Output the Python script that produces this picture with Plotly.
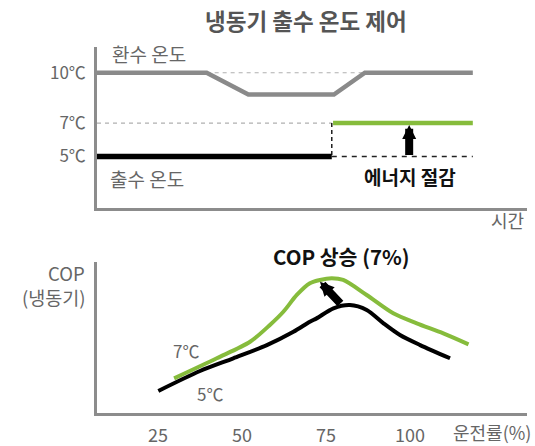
import plotly.graph_objects as go

FONT = "Noto Sans CJK KR"
GRAY_TXT = "#666666"
AXIS_GRAY = "#8c8c8c"
GREEN = "#86bc3c"

# ---- top panel data: chiller temperature control over time ----
time_pts = [0, 2.55, 3.52, 5.51, 6.23, 8.74]
return_temp = [10, 10, 8.7, 8.7, 10, 10]
switch_time = 5.46
end_time = 8.74
supply_before = 5
supply_after = 7
ref_temp = 10
temp_ticks = [5, 7, 10]
temp_tick_labels = ["5℃", "7℃", "10℃"]

# ---- bottom panel data: COP vs. load ----
load_7 = [29.8, 42.5, 52.4, 58.3, 62.3, 66.3, 70.2, 73.2, 76.7, 80.1, 87.1, 95.0, 102, 109.9, 117.4]
cop_7 = [2.31, 3.65, 4.75, 5.87, 6.75, 7.87, 8.65, 8.87, 8.98, 8.87, 7.87, 6.65, 5.98, 5.31, 4.58]
load_5 = [25.1, 37.5, 47.4, 57.4, 65.3, 70.2, 72.2, 77.2, 82.1, 87.1, 92.1, 97.0, 103, 111.9]
cop_5 = [1.47, 2.8, 3.65, 4.53, 5.42, 6.09, 6.31, 6.98, 7.2, 6.87, 5.98, 5.2, 4.53, 3.65]
load_ticks = [25, 50, 75, 100]
arrow_tip = (73.2, 8.75)
arrow_tail = (79.7, 7.2)

fig = go.Figure()

# dashed reference lines (top)
fig.add_trace(go.Scatter(x=[time_pts[1], time_pts[4]], y=[ref_temp, ref_temp], mode="lines",
                         line=dict(color="#b0b0b0", width=1.2, dash="4px,4px"), xaxis="x", yaxis="y"))
fig.add_trace(go.Scatter(x=[0, switch_time], y=[supply_after, supply_after], mode="lines",
                         line=dict(color="#b0b0b0", width=1.2, dash="4px,4px"), xaxis="x", yaxis="y"))
fig.add_trace(go.Scatter(x=[switch_time, switch_time], y=[supply_after, supply_before], mode="lines",
                         line=dict(color="#222222", width=1.5, dash="4px,3px"), xaxis="x", yaxis="y"))
fig.add_trace(go.Scatter(x=[switch_time, end_time], y=[supply_before, supply_before], mode="lines",
                         line=dict(color="#222222", width=1.5, dash="5px,5px"), xaxis="x", yaxis="y"))

# solid lines (top)
fig.add_trace(go.Scatter(x=time_pts, y=return_temp, mode="lines",
                         line=dict(color="#8a8a8a", width=4.5), xaxis="x", yaxis="y"))
fig.add_trace(go.Scatter(x=[0, switch_time], y=[supply_before, supply_before], mode="lines",
                         line=dict(color="#000000", width=5.5), xaxis="x", yaxis="y"))
fig.add_trace(go.Scatter(x=[switch_time + 0.03, end_time], y=[supply_after, supply_after], mode="lines",
                         line=dict(color=GREEN, width=4.5), xaxis="x", yaxis="y"))

# bottom curves
fig.add_trace(go.Scatter(x=load_7, y=cop_7, mode="lines", line=dict(color=GREEN, width=4, shape="spline", smoothing=0.8),
                         xaxis="x2", yaxis="y2"))
fig.add_trace(go.Scatter(x=load_5, y=cop_5, mode="lines", line=dict(color="#000000", width=4, shape="spline", smoothing=0.8),
                         xaxis="x2", yaxis="y2"))

def txt(text, x, y, size=18, color=GRAY_TXT, bold=False, xanchor="center"):
    fig.add_annotation(text=("<b>%s</b>" % text) if bold else text, x=x / 535, y=1 - y / 446,
                       xref="paper", yref="paper", xanchor=xanchor, yanchor="middle", showarrow=False,
                       font=dict(family=FONT, size=size, color=color))

txt("냉동기 출수 온도 제어", 306, 20, size=22.5, color="#555555", bold=True)
txt("환수 온도", 110, 53, size=19, xanchor="left")
txt("출수 온도", 108, 179, size=19, xanchor="left")
txt("에너지 절감", 458, 177, size=19, color="#111111", bold=True, xanchor="right")
txt("시간", 526, 220, xanchor="right")
txt("COP", 87, 273, size=18.5, xanchor="right")
txt("(냉동기)", 88, 297, size=18.5, xanchor="right")
txt("7℃", 186, 350, size=17)
txt("5℃", 210, 393, size=17)
txt("COP 상승 (7%)", 341, 256, size=20.5, color="#111111", bold=True)
txt("운전률(%)", 533, 432, xanchor="right")

# arrows
fig.add_annotation(x=7.26, y=6.88, ax=7.26, ay=supply_before, xref="x", yref="y", axref="x", ayref="y",
                   text="", showarrow=True, arrowhead=2, arrowwidth=8, arrowsize=0.35, arrowcolor="#000000")
fig.add_annotation(x=arrow_tip[0], y=arrow_tip[1], ax=arrow_tail[0], ay=arrow_tail[1],
                   xref="x2", yref="y2", axref="x2", ayref="y2",
                   text="", showarrow=True, arrowhead=2, arrowwidth=8, arrowsize=0.35, arrowcolor="#000000")

axis_common = dict(showgrid=False, zeroline=False, showline=True, linecolor=AXIS_GRAY, linewidth=2.5)

fig.update_layout(
    width=535, height=446, margin=dict(l=0, r=0, t=0, b=0),
    paper_bgcolor="white", plot_bgcolor="white", showlegend=False,
    font=dict(family=FONT, size=17, color=GRAY_TXT),
    xaxis=dict(domain=[97 / 535, 527 / 535], range=[0, 10], showticklabels=False, ticks="", anchor="y", **axis_common),
    yaxis=dict(domain=[237.7 / 446, 398.7 / 446], range=[1.91, 11.52], tickmode="array", tickvals=temp_ticks,
               ticktext=temp_tick_labels, ticks="", ticklabelstandoff=5, anchor="x",
               tickfont=dict(family=FONT, size=17, color=GRAY_TXT), **axis_common),
    xaxis2=dict(domain=[97 / 535, 527 / 535], range=[6.85, 134.8], tickmode="array", tickvals=load_ticks,
                ticks="", ticklabelstandoff=5, anchor="y2",
                tickfont=dict(family=FONT, size=18, color=GRAY_TXT), **axis_common),
    yaxis2=dict(domain=[33 / 446, 184.3 / 446], range=[0, 10.09], showticklabels=False, ticks="", anchor="x2",
                **axis_common),
)

fig.write_html("out.html", config={"displayModeBar": False},
               post_script="document.body.style.margin='0';document.body.style.padding='0';")
